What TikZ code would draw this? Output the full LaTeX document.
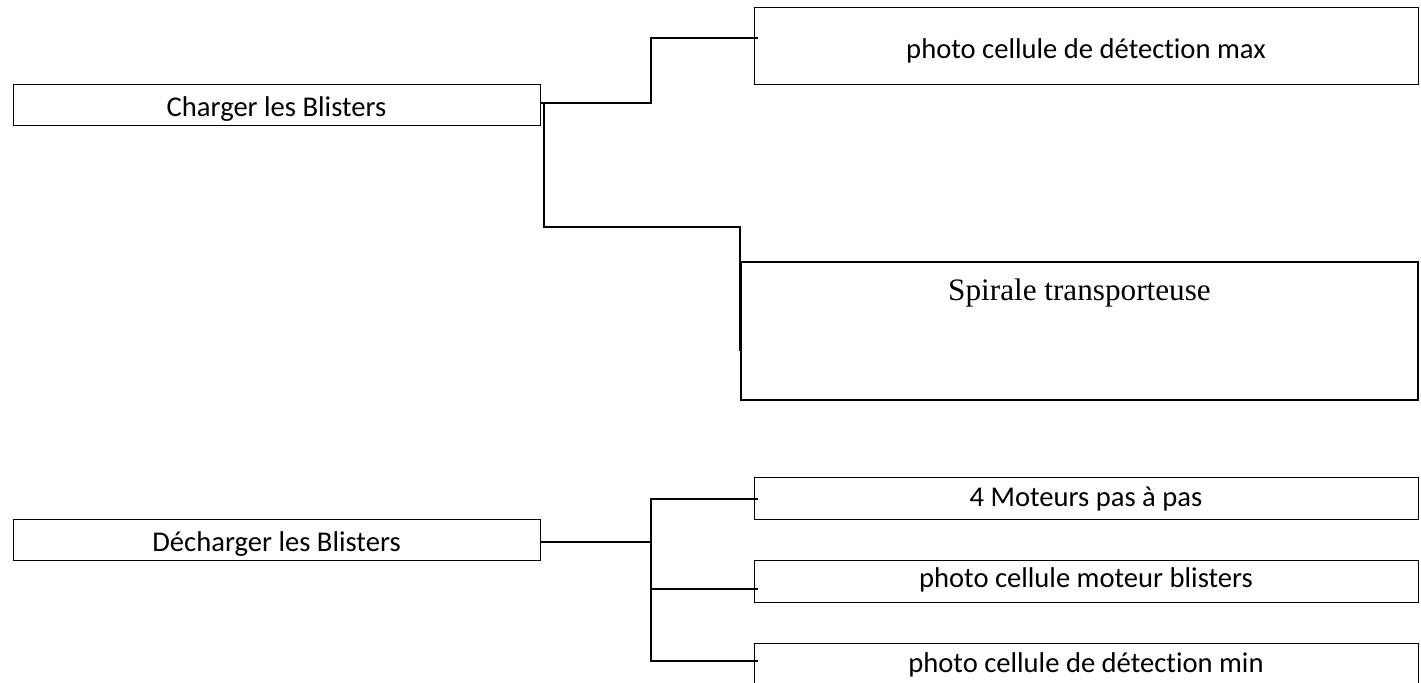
\documentclass[tikz,border=0pt]{standalone}
\usepackage{fontspec}
\setmainfont{Carlito}[Ligatures=NoCommon]
\newfontfamily\timesfont{Liberation Serif}
\usepackage{tikz}
\usetikzlibrary{positioning}

\begin{document}
\begin{tikzpicture}[x=0.5pt, y=-0.5pt,
    fonction/.style={draw, line width=0.5pt, inner sep=0pt,
      minimum width=263.5pt, minimum height=20.5pt,
      text height=13pt, text depth=1.5pt,
      font=\fontsize{14.3}{17}\selectfont},
    solution/.style={draw, line width=0.5pt, inner sep=0pt,
      minimum width=332pt, minimum height=21pt,
      text height=11pt, text depth=3pt,
      font=\fontsize{14.3}{17}\selectfont},
    lien/.style={line width=1pt}]
  \useasboundingbox (0,0) rectangle (1421,683);

  % fonctions
  \node[fonction] (charger) at (276.5,105.5) {Charger les Blisters};
  \node[fonction] (decharger) at (276.5,540.5) {Décharger les Blisters};

  % solutions
  \node[solution, minimum height=38.5pt, text height=14pt, text depth=1.5pt]
    (detmax) at (1086,46.5) {photo cellule de détection max};
  \node[draw, line width=0.75pt, inner sep=0pt, minimum width=338.5pt,
        text height=19.5pt, text depth=49.5pt,
        font=\timesfont\fontsize{15.6}{18}\selectfont]
    (spirale) at (1079.5,331) {Spirale transporteuse};
  \node[solution] (moteurs) at (1086,499) {4 Moteurs pas à pas};
  \node[solution, text height=10pt, text depth=4pt]
    (blisters) at (1086,582) {photo cellule moteur blisters};
  \node[solution, text height=14.5pt, text depth=23.5pt]
    (detmin) at (1086,682) {photo cellule de détection min};

  % liaisons
  \draw[lien] ([yshift=1.25pt]charger.east) -- ++(110,0)
    |- ([xshift=2pt,yshift=4.25pt]detmax.west);
  \draw[lien] ([xshift=1.5pt,yshift=1.25pt]charger.east)
    |- ([yshift=17pt]spirale.north west) -- ([yshift=-45pt]spirale.north west);
  \draw[lien] ([yshift=-0.75pt]decharger.east) -- ++(110,0) coordinate (noeud);
  \draw[lien] ([xshift=2pt]moteurs.west) -| (noeud)
    |- ([xshift=2pt,yshift=-9pt]detmin.north west);
  \coordinate (entree) at ([xshift=2pt,yshift=-3.5pt]blisters.west);
  \draw[lien] (noeud |- entree) -- (entree);
\end{tikzpicture}
\end{document}
